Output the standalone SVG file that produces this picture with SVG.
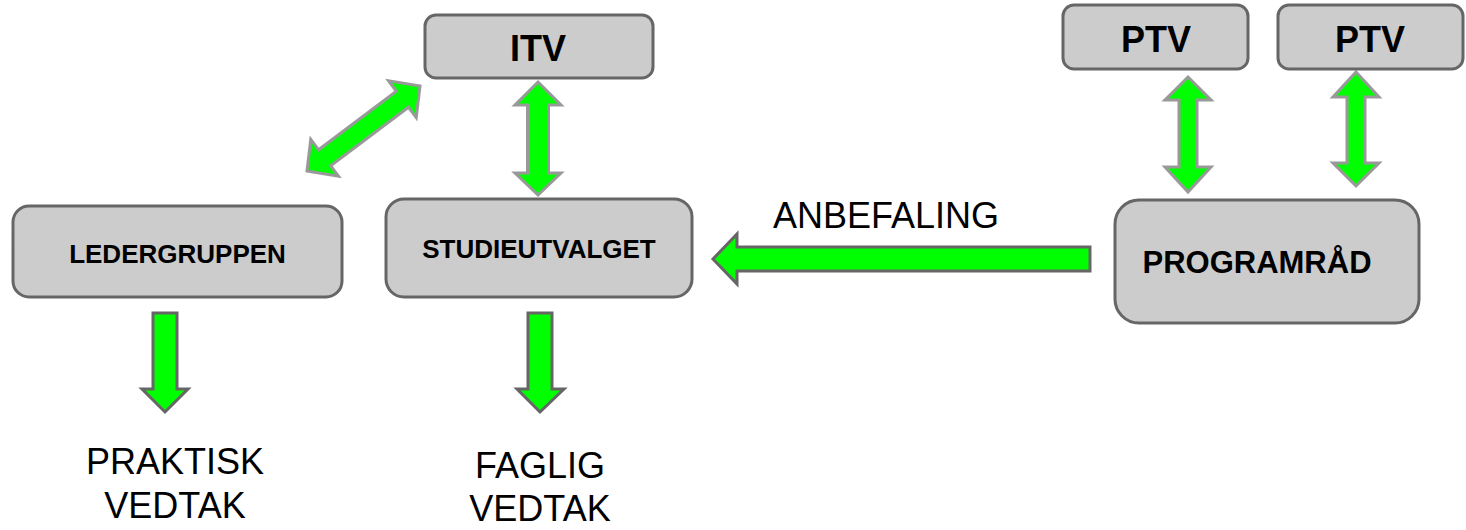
<svg xmlns="http://www.w3.org/2000/svg" width="1466" height="530" viewBox="0 0 1466 530">
<style>
.box{fill:#cccccc;stroke:#666666;stroke-width:3}
.lbl{font-family:"Liberation Sans",Arial,sans-serif;font-weight:bold;fill:#000;text-anchor:middle}
.txt{font-family:"Liberation Sans",Arial,sans-serif;fill:#000;text-anchor:middle;font-size:36px}
.arr{fill:#00ff00;stroke:#666666;stroke-width:3;stroke-linejoin:miter}
.arrl{fill:#00ff00;stroke:#999999;stroke-width:3;stroke-linejoin:miter}
</style>
<rect width="1466" height="530" fill="#ffffff"/>
<g id="connectors">
<path class="arrl" transform="translate(363.5 128.5) rotate(-36.95)" d="M -70.7 0 L -48.7 -23 L -48.7 -10 L 48.7 -10 L 48.7 -23 L 70.7 0 L 48.7 23 L 48.7 10 L -48.7 10 L -48.7 23 Z"/>
<path class="arrl" d="M 538 82 L 561 105 L 548.5 105 L 548.5 173 L 561 173 L 538 195 L 515 173 L 527.5 173 L 527.5 105 L 515 105 Z"/>
<path class="arrl" d="M 1188 77 L 1211 100 L 1197 100 L 1197 167 L 1211 167 L 1188 192 L 1165 167 L 1179 167 L 1179 100 L 1165 100 Z"/>
<path class="arrl" d="M 1356 72 L 1379 97 L 1365 97 L 1365 163 L 1379 163 L 1356 186 L 1333 163 L 1347 163 L 1347 97 L 1333 97 Z"/>
<path class="arr" d="M 153 313 L 177 313 L 177 389 L 188 389 L 165 412 L 142 389 L 153 389 Z"/>
<path class="arr" d="M 528 313 L 552 313 L 552 389 L 564 389 L 540 412 L 517 389 L 528 389 Z"/>
<path class="arr" d="M 1090 247 L 1090 271 L 737 271 L 737 284 L 713 259 L 737 234 L 737 247 Z"/>
<text class="txt" x="886" y="228">ANBEFALING</text>
</g>
<g id="itv">
<rect class="box" x="425" y="15" width="228" height="63" rx="11"/>
<text class="lbl" x="538" y="61" font-size="36">ITV</text>
</g>
<g id="ptv1">
<rect class="box" x="1063" y="5" width="185" height="64" rx="11"/>
<text class="lbl" x="1156" y="52" font-size="36">PTV</text>
</g>
<g id="ptv2">
<rect class="box" x="1278" y="5" width="185" height="64" rx="11"/>
<text class="lbl" x="1370" y="52" font-size="36">PTV</text>
</g>
<g id="ledergruppen">
<rect class="box" x="13" y="206" width="329" height="91" rx="16"/>
<text class="lbl" x="177.5" y="263" font-size="26">LEDERGRUPPEN</text>
</g>
<g id="studieutvalget">
<rect class="box" x="386" y="199" width="306" height="98" rx="18"/>
<text class="lbl" x="539" y="258" font-size="26">STUDIEUTVALGET</text>
</g>
<g id="programrad">
<rect class="box" x="1115" y="200" width="304" height="123" rx="24"/>
<text class="lbl" x="1257" y="273" font-size="31">PROGRAMRÅD</text>
</g>
<g id="praktisk">
<text class="txt" x="175" y="474">PRAKTISK</text>
<text class="txt" x="175" y="518">VEDTAK</text>
</g>
<g id="faglig">
<text class="txt" x="540" y="478">FAGLIG</text>
<text class="txt" x="540" y="521">VEDTAK</text>
</g>
</svg>
